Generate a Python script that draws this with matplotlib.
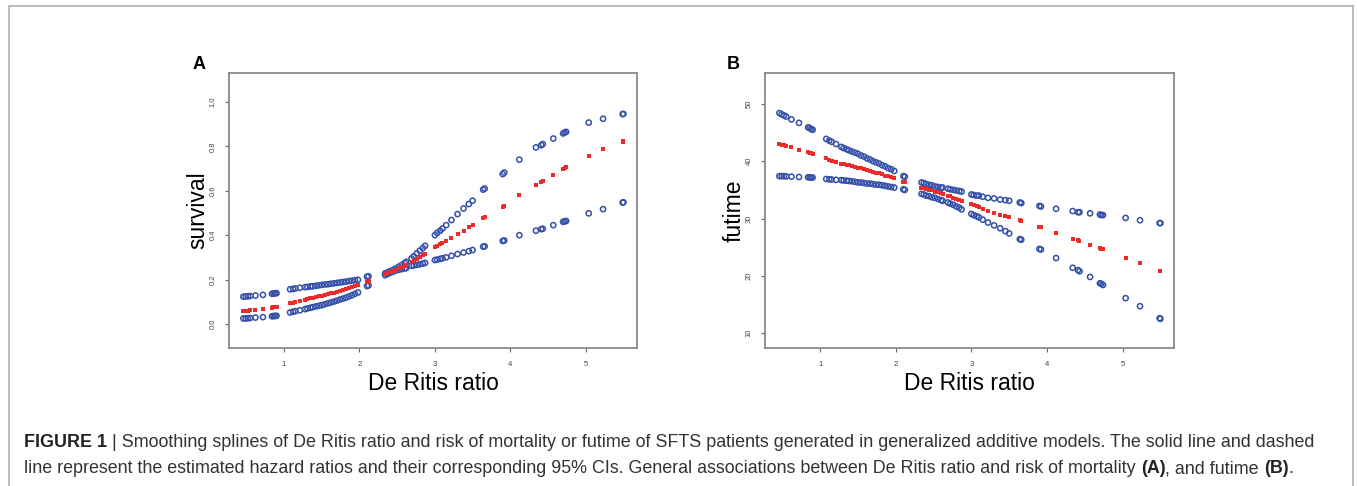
import matplotlib
matplotlib.use("Agg")
import matplotlib.pyplot as plt
from matplotlib.lines import Line2D

# ---------------- data ----------------
ratio = [0.46, 0.49, 0.52, 0.55, 0.62, 0.72, 0.84, 0.86, 0.88, 0.90,
         1.08, 1.12, 1.15, 1.21, 1.28, 1.31, 1.35, 1.38, 1.42, 1.46, 1.50, 1.54, 1.58, 1.62,
         1.66, 1.70, 1.74, 1.78, 1.82, 1.86, 1.90, 1.94, 1.98,
         2.10, 2.12, 2.34, 2.37, 2.40, 2.44, 2.48, 2.52, 2.56, 2.60, 2.62,
         2.69, 2.72, 2.76, 2.80, 2.84, 2.87,
         3.00, 3.03, 3.07, 3.10, 3.15, 3.22, 3.30, 3.38, 3.45, 3.50,
         3.64, 3.66, 3.90, 3.92, 4.12, 4.34, 4.41, 4.43, 4.57, 4.70, 4.72, 4.74,
         5.04, 5.23, 5.49, 5.50]

surv_upper = [0.123, 0.124, 0.125, 0.126, 0.128, 0.131, 0.136, 0.137, 0.138, 0.139,
              0.156, 0.158, 0.160, 0.163, 0.166, 0.167, 0.169, 0.170, 0.172, 0.174, 0.176, 0.178, 0.179, 0.181,
              0.183, 0.185, 0.187, 0.189, 0.191, 0.193, 0.195, 0.197, 0.199,
              0.213, 0.215, 0.228, 0.232, 0.237, 0.243, 0.250, 0.258, 0.266, 0.274, 0.280,
              0.295, 0.305, 0.318, 0.330, 0.342, 0.352,
              0.400, 0.410, 0.420, 0.430, 0.445, 0.468, 0.495, 0.520, 0.540, 0.555,
              0.605, 0.610, 0.675, 0.682, 0.740, 0.795, 0.805, 0.810, 0.835, 0.858, 0.862, 0.865,
              0.907, 0.924, 0.945, 0.946]
surv_fit = [0.058, 0.059, 0.060, 0.061, 0.064, 0.068, 0.074, 0.076, 0.077, 0.078,
            0.093, 0.096, 0.099, 0.104, 0.110, 0.112, 0.115, 0.118, 0.121, 0.124, 0.127, 0.131, 0.134, 0.138,
            0.141, 0.145, 0.149, 0.153, 0.157, 0.161, 0.165, 0.170, 0.174,
            0.190, 0.192, 0.225, 0.229, 0.233, 0.239, 0.245, 0.250, 0.256, 0.262, 0.265,
            0.277, 0.283, 0.291, 0.300, 0.309, 0.316,
            0.345, 0.351, 0.358, 0.364, 0.374, 0.388, 0.404, 0.420, 0.435, 0.445,
            0.476, 0.480, 0.528, 0.532, 0.580, 0.628, 0.640, 0.644, 0.672, 0.698, 0.702, 0.706,
            0.756, 0.786, 0.820, 0.822]
surv_lower = [0.025, 0.025, 0.026, 0.027, 0.029, 0.031, 0.035, 0.036, 0.036, 0.037,
              0.052, 0.055, 0.058, 0.062, 0.067, 0.070, 0.073, 0.076, 0.079, 0.082, 0.085, 0.089, 0.093, 0.097,
              0.101, 0.105, 0.110, 0.114, 0.119, 0.124, 0.130, 0.136, 0.142,
              0.171, 0.174, 0.220, 0.225, 0.230, 0.235, 0.240, 0.244, 0.247, 0.250, 0.252,
              0.262, 0.264, 0.266, 0.269, 0.272, 0.275,
              0.288, 0.290, 0.293, 0.296, 0.300, 0.307, 0.315, 0.322, 0.328, 0.333,
              0.348, 0.350, 0.374, 0.376, 0.400, 0.420, 0.427, 0.429, 0.445, 0.460, 0.462, 0.464,
              0.498, 0.517, 0.547, 0.548]

fut_upper = [48.4, 48.2, 48.0, 47.8, 47.3, 46.7, 45.9, 45.8, 45.6, 45.5,
             43.9, 43.6, 43.4, 43.0, 42.5, 42.3, 42.1, 41.9, 41.7, 41.5, 41.3, 41.0, 40.8, 40.5,
             40.3, 40.0, 39.8, 39.6, 39.3, 39.1, 38.8, 38.6, 38.3,
             37.4, 37.3, 36.3, 36.2, 36.0, 35.9, 35.8, 35.6, 35.5, 35.4, 35.4,
             35.2, 35.1, 35.0, 34.9, 34.8, 34.7,
             34.2, 34.1, 34.0, 34.0, 33.8, 33.6, 33.5, 33.3, 33.2, 33.1,
             32.8, 32.7, 32.2, 32.1, 31.7, 31.3, 31.1, 31.1, 30.9, 30.7, 30.6, 30.6,
             30.1, 29.7, 29.2, 29.2]
fut_fit = [43.0, 42.9, 42.8, 42.7, 42.4, 42.0, 41.6, 41.5, 41.4, 41.3,
           40.5, 40.3, 40.1, 39.9, 39.6, 39.5, 39.4, 39.3, 39.2, 39.0, 38.9, 38.8, 38.6, 38.5,
           38.3, 38.2, 38.0, 37.9, 37.7, 37.5, 37.4, 37.2, 37.0,
           36.4, 36.3, 35.4, 35.3, 35.1, 35.0, 34.9, 34.7, 34.6, 34.4, 34.3,
           34.0, 33.9, 33.6, 33.4, 33.2, 33.1,
           32.5, 32.4, 32.2, 32.0, 31.7, 31.3, 30.9, 30.6, 30.4, 30.3,
           29.7, 29.6, 28.6, 28.5, 27.4, 26.5, 26.2, 26.1, 25.4, 24.8, 24.7, 24.6,
           23.1, 22.2, 20.9, 20.8]
fut_lower = [37.4, 37.4, 37.4, 37.35, 37.3, 37.25, 37.2, 37.2, 37.15, 37.15,
             36.9, 36.85, 36.8, 36.75, 36.7, 36.65, 36.6, 36.55, 36.5, 36.4, 36.3, 36.3, 36.2, 36.1,
             36.1, 36.0, 35.9, 35.9, 35.8, 35.7, 35.6, 35.5, 35.4,
             35.1, 35.0, 34.3, 34.2, 34.0, 33.9, 33.7, 33.6, 33.4, 33.2, 33.1,
             32.8, 32.6, 32.4, 32.1, 31.9, 31.6,
             30.8, 30.6, 30.4, 30.2, 29.8, 29.3, 28.8, 28.3, 27.8, 27.4,
             26.4, 26.3, 24.7, 24.6, 23.1, 21.4, 21.0, 20.8, 19.8, 18.7, 18.6, 18.4,
             16.1, 14.7, 12.6, 12.5]

x_ticks = [1, 2, 3, 4, 5]
surv_ticks = [0.0, 0.2, 0.4, 0.6, 0.8, 1.0]
fut_ticks = [10, 20, 30, 40, 50]

# ---------------- figure ----------------
W, H = 1357, 486
fig = plt.figure(figsize=(W / 100, H / 100), dpi=100)
FONT = ["Liberation Sans", "DejaVu Sans"]

def ax_rect(l, t, r, b):
    return [l / W, 1 - b / H, (r - l) / W, (b - t) / H]

ci_col = "#3550a8"
fit_col = "#ee2a2a"
frame_col = "#8a8a8a"

def panel(rect, upper, fit, lower, ylim, yticks, ylabel, letter, letter_xy):
    ax = fig.add_axes(ax_rect(*rect))
    for ser in (upper, lower):
        ax.scatter(ratio, ser, s=14, facecolors="none", edgecolors=ci_col, linewidths=1.1, zorder=3)
    ax.scatter(ratio, fit, s=5, marker="s", color=fit_col, linewidths=0, zorder=4)
    ax.set_xlim(0.27, 5.68)
    ax.set_ylim(*ylim)
    ax.set_xticks(x_ticks)
    ax.set_yticks(yticks)
    ax.set_xticklabels([str(v) for v in x_ticks], fontsize=5.5, color="#444444", family=FONT)
    ylbl = [f"{v:.1f}" if isinstance(v, float) else str(v) for v in yticks]
    ax.set_yticklabels(ylbl, fontsize=5.5, color="#444444", rotation=90, va="center", family=FONT)
    ax.tick_params(axis="both", length=3, width=0.8, color="#666666", pad=6)
    for sp in ax.spines.values():
        sp.set_color(frame_col)
        sp.set_linewidth(1.3)
    ax.set_xlabel("De Ritis ratio", fontsize=16.5, family=FONT, labelpad=3)
    ax.set_ylabel(ylabel, fontsize=16.5, family=FONT, labelpad=0)
    fig.text(letter_xy[0] / W, 1 - letter_xy[1] / H, letter, fontsize=13, fontweight="bold",
             family=FONT, ha="center", va="center")
    return ax

panel((229, 73, 637, 348), surv_upper, surv_fit, surv_lower, (-0.108, 1.13), surv_ticks,
      "survival", "A", (199, 64))
panel((765, 73, 1174, 348), fut_upper, fut_fit, fut_lower, (7.4, 55.4), fut_ticks,
      "futime", "B", (733, 64))

# outer frame (open at the bottom)
frame_kw = dict(color="#b0b0b0", linewidth=1.2, transform=fig.transFigure)
fig.add_artist(Line2D([9 / W, 1353 / W], [1 - 6 / H, 1 - 6 / H], **frame_kw))
fig.add_artist(Line2D([9 / W, 9 / W], [1 - 6 / H, 0], **frame_kw))
fig.add_artist(Line2D([1353 / W, 1353 / W], [1 - 6 / H, 0], **frame_kw))

# caption
FS = 12.9
cap_col = "#333333"
bold_col = "#222222"
y1 = 1 - 447 / H
y2 = 1 - 473 / H
fig.canvas.draw()
r = fig.canvas.get_renderer()

def run(x_px, y, parts):
    for txt, bold in parts:
        t = fig.text(x_px / W, y, txt, fontsize=FS, family=FONT,
                     fontweight="bold" if bold else "normal",
                     color=bold_col if bold else cap_col, va="baseline")
        x_px = t.get_window_extent(r).x1

run(24, y1, [("FIGURE 1", True),
             (" | Smoothing splines of De Ritis ratio and risk of mortality or futime of SFTS patients "
              "generated in generalized additive models. The solid line and dashed", False)])
run(24, y2, [("line represent the estimated hazard ratios and their corresponding 95% CIs. General "
              "associations between De Ritis ratio and risk of mortality ", False),
             ("(A)", True), (", and futime ", False), ("(B)", True), (".", False)])

fig.savefig("out.png", dpi=100)
